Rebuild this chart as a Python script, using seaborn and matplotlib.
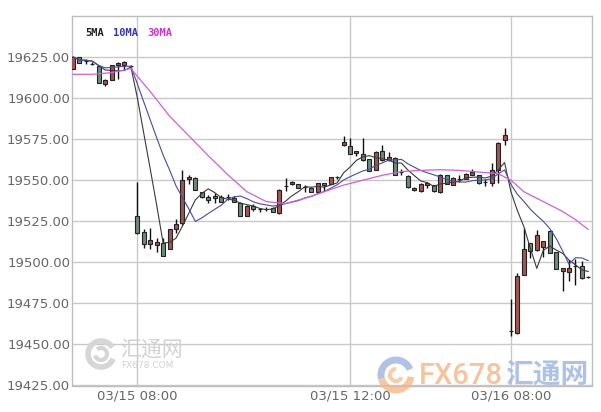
import matplotlib
matplotlib.use("Agg")
import matplotlib.pyplot as plt
from matplotlib.patches import Arc
from matplotlib.ticker import FormatStrFormatter
import seaborn as sns
import pandas as pd

# candle data (index = bar number, time axis is compressed)
opens = [19618, 19624.8, 19622.5, 19621, 19619.6, 19608.7, 19611.3, 19620.3, 19620.4, 19619.8,
         19528.5, 19518.4, 19511.1, 19510.5, 19511.7, 19508.2, 19520.2, 19523.9, 19550.5, 19551.5,
         19542.8, 19539.5, 19540.5, 19539.8, 19539.5, 19538.9, 19536.1, 19528.5, 19534.4, 19532.4,
         19532.6, 19533, 19530, 19546.2, 19547.9, 19547.9, 19545.6, 19545.4, 19542.6, 19548.3,
         19547.9, 19552, 19571.6, 19570.6, 19566.3, 19566.2, 19562.9, 19556.4, 19567.6, 19562.1,
         19563.5, 19555, 19552.7, 19543.8, 19543.4, 19547.1, 19546.8, 19542.6, 19553, 19547.2,
         19551, 19550.7, 19553.4, 19553, 19548.7, 19548.3, 19556.4, 19574.7, 19458.4, 19456.8,
         19492.4, 19511.7, 19507.6, 19509.3, 19519.2, 19506.2, 19495, 19494.4, 19498, 19498,
         19491]
highs = [19625.5, 19625, 19623.6, 19622.2, 19620, 19611.5, 19620.3, 19622, 19622.4, 19620,
         19548.7, 19520.4, 19521, 19514.7, 19514.7, 19520.5, 19526.3, 19556, 19553.2, 19552,
         19543, 19541.1, 19542.4, 19541, 19541.6, 19540.5, 19536.5, 19535, 19535.5, 19533,
         19533.6, 19533.5, 19544.5, 19551.3, 19549.5, 19548, 19546.8, 19545.6, 19548.5, 19548.5,
         19552, 19552.6, 19576.7, 19575.5, 19568, 19575.7, 19563, 19567.5, 19571.6, 19567.2,
         19564, 19556.6, 19553, 19545.8, 19548.2, 19549, 19547, 19553.6, 19553.4, 19551.7,
         19553.4, 19554.2, 19556.6, 19553.4, 19550.7, 19560.5, 19573, 19581.8, 19477.5, 19493.8,
         19520.8, 19512, 19519.8, 19513, 19519.5, 19506.5, 19496.6, 19501.3, 19501.9, 19501,
         19491.5]
lows = [19617.5, 19621.5, 19621, 19620.2, 19609, 19607.2, 19611, 19611.5, 19617.4, 19618.4,
        19517.5, 19509, 19508.4, 19506.2, 19504, 19508, 19518, 19523, 19547.9, 19544,
        19539, 19536.1, 19536.4, 19536.5, 19538, 19536.5, 19528.5, 19528, 19531.5, 19530.6,
        19531, 19530.5, 19529.5, 19543.2, 19546.9, 19545, 19542.6, 19542.6, 19542, 19543.2,
        19547.5, 19551, 19571, 19565.8, 19565, 19562, 19555.5, 19556, 19562, 19562,
        19553, 19553.4, 19545.5, 19543.5, 19543, 19545, 19543, 19542, 19547.5, 19547,
        19549, 19550.5, 19553, 19548, 19546.5, 19546.5, 19548.3, 19571.6, 19455.2, 19456.5,
        19492, 19502.6, 19507, 19503.2, 19505.5, 19495.7, 19482.8, 19488.8, 19486.2, 19490,
        19490.5]
closes = [19625, 19621.6, 19622.5, 19621, 19609.3, 19611.3, 19620, 19621.5, 19622.2, 19619.8,
          19517.8, 19511.1, 19513.5, 19512.3, 19504, 19520.2, 19523.5, 19550.3, 19552, 19544.2,
          19539.5, 19537.7, 19539, 19536.7, 19539.5, 19536.5, 19528.5, 19534.4, 19532.4, 19532.4,
          19532.6, 19530.6, 19544.2, 19546.2, 19549.1, 19545.2, 19545.6, 19542.8, 19548.3, 19547,
          19551.7, 19552, 19573.1, 19566, 19567.6, 19562.5, 19555.6, 19567, 19562.5, 19564.1,
          19553.4, 19555, 19545.9, 19545.4, 19547.9, 19548.5, 19543.4, 19553.4, 19547.9, 19551.3,
          19551, 19553.9, 19555, 19548.3, 19548.7, 19556.4, 19572.7, 19577.7, 19458.4, 19491.8,
          19508, 19506.6, 19516.8, 19512.7, 19505.6, 19495.9, 19496.4, 19496.4, 19498, 19490.3,
          19491]

# 30MA (it needs history that is not on screen)
ma30_idx = [0, 3, 6, 9, 12, 15, 18, 21, 24, 27, 30, 33, 36, 39, 42, 45, 48, 51, 54,
            57, 60, 63, 66, 68, 70, 72, 74, 76, 78, 80]
ma30_val = [19614.5, 19614.5, 19615.5, 19618, 19604, 19589, 19577, 19565, 19553.5, 19543,
            19537, 19535.8, 19539, 19543, 19547, 19550, 19553, 19555.3, 19556, 19556.4,
            19556, 19555, 19554, 19550, 19543, 19539, 19535, 19531, 19526, 19520]

y_ticks = [19425, 19450, 19475, 19500, 19525, 19550, 19575, 19600, 19625]
x_tick_pos = [10, 43, 68]
x_tick_labels = ["03/15 08:00", "03/15 12:00", "03/16 08:00"]

UP = "#a4554f"
DOWN = "#6c8a7a"

sns.set_theme(style="whitegrid")
plt.rcParams['font.family'] = ['DejaVu Sans', 'Noto Sans CJK SC']

df = pd.DataFrame({"open": opens, "high": highs, "low": lows, "close": closes})
df["x"] = range(len(df))
df["ma5"] = df["close"].rolling(5, min_periods=1).mean()
df["ma10"] = df["close"].rolling(10, min_periods=1).mean()
ma30 = pd.DataFrame({"x": ma30_idx, "ma30": ma30_val})

W, H = 601, 412
fig = plt.figure(figsize=(W / 100, H / 100), dpi=100)
ax = fig.add_axes([71.5 / W, 1 - 385.5 / H, (592 - 71.5) / W, (385.5 - 16) / H])
ax.set_facecolor("white")

# watermarks (behind everything)
fig.patches.append(Arc((101 / W, 1 - 354 / H), 26 / W, 26 / H, theta1=40, theta2=330,
                       transform=fig.transFigure, color="#d6d6d6", lw=4, zorder=0))
fig.patches.append(Arc((101 / W, 1 - 354 / H), 12 / W, 12 / H, theta1=200, theta2=120,
                       transform=fig.transFigure, color="#d6d6d6", lw=3, zorder=0))
fig.text(120 / W, 1 - 350 / H, "汇通网", family=['Noto Sans CJK SC'], fontsize=15,
         color="#d2d2d2", va="center", ha="left", zorder=0)
fig.text(121 / W, 1 - 366 / H, "FX678.COM", fontsize=6.5, color="#d2d2d2",
         va="center", ha="left", zorder=0)
fig.patches.append(Arc((396 / W, 1 - 375 / H), 30 / W, 30 / H, theta1=30, theta2=200,
                       transform=fig.transFigure, color="#9fb3db", lw=5, zorder=0, alpha=0.8))
fig.patches.append(Arc((396 / W, 1 - 375 / H), 30 / W, 30 / H, theta1=200, theta2=350,
                       transform=fig.transFigure, color="#f4b889", lw=5, zorder=0, alpha=0.8))
fig.patches.append(Arc((396 / W, 1 - 375 / H), 12 / W, 12 / H, theta1=90, theta2=330,
                       transform=fig.transFigure, color="#f4b889", lw=3, zorder=0, alpha=0.7))
fig.text(419 / W, 1 - 376 / H, "FX678", family=['Roboto', 'DejaVu Sans'], fontsize=21,
         fontweight="medium", color="#f6b98c", alpha=0.85, va="center", ha="left", zorder=0)
fig.text(505 / W, 1 - 376 / H, "汇通网", family=['Noto Sans CJK SC'], fontsize=20,
         fontweight="bold", color="#a3b8de", alpha=0.85, va="center", ha="left", zorder=0)

# candles
up = df["close"] >= df["open"]
ax.vlines(df["x"], df["low"], df["high"], color="#111111", lw=1, zorder=3)
for mask, col in [(up, UP), (~up, DOWN)]:
    d = df[mask]
    ax.bar(d["x"], d["close"] - d["open"], bottom=d["open"], width=0.62,
           color=col, edgecolor="#222222", linewidth=0.8, zorder=4)

# moving averages
sns.lineplot(data=df, x="x", y="ma5", color="#3a3a3a", lw=0.8, ax=ax, zorder=5)
sns.lineplot(data=df, x="x", y="ma10", color="#4a4aa0", lw=0.8, ax=ax, zorder=5)
sns.lineplot(data=ma30, x="x", y="ma30", color="#d060d0", lw=0.9, ax=ax, zorder=5)

ax.set_xlim(-0.22, 80.57)
ax.set_ylim(19425, 19650)
ax.set_yticks(y_ticks)
ax.yaxis.set_major_formatter(FormatStrFormatter("%.2f"))
ax.set_xticks(x_tick_pos)
ax.set_xticklabels(x_tick_labels)
ax.set_xlabel("")
ax.set_ylabel("")
ax.grid(True, color="#c9c9c9", lw=1)
ax.set_axisbelow(True)
ax.tick_params(axis="both", length=0, labelsize=9.5, labelcolor="#666666")
ax.tick_params(axis="y", pad=1)
ax.tick_params(axis="x", pad=3)
for s in ax.spines.values():
    s.set_color("#bdbdbd")
    s.set_linewidth(1)

# legend labels
for lx, txt, col in [(85, "5MA", "#222222"), (113, "10MA", "#3333bb"), (147, "30MA", "#cc33cc")]:
    fig.text(lx / W, 1 - 33 / H, txt, family="DejaVu Sans Mono", fontsize=7.5,
             fontweight="bold", color=col, va="center")

fig.savefig("out.png", dpi=100, facecolor="white")
